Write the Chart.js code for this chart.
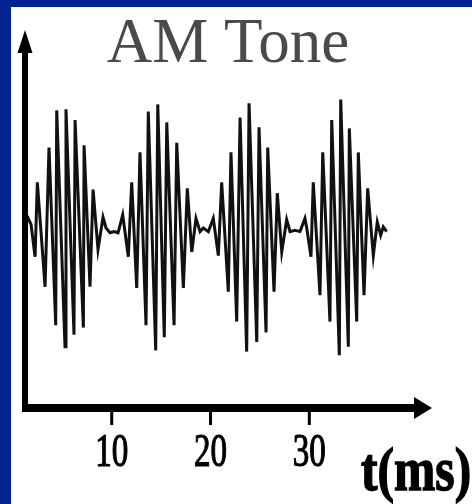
<!DOCTYPE html>
<html>
<head>
<meta charset="utf-8">
<script src="https://cdn.jsdelivr.net/npm/chart.js@4/dist/chart.umd.min.js"></script>
<style>
    body { margin: 0; background: #002392; width: 472px; height: 504px; overflow: hidden; }
    #panel { position: absolute; left: 11px; top: 7px; width: 461px; height: 497px; background: #ffffff; }
    canvas { display: block; }
</style>
</head>
<body>
<div id="panel"><canvas id="chart" width="461" height="497"></canvas></div>
<script>
//=================================
// Chart data
//=================================

const TITLE = "AM Tone";
const AXIS_LABEL = "t(ms)";
const TICK_VALUES = [10, 20, 30];

//time in ms
const times = [
    1.43, 1.83, 2.24, 2.47, 2.84, 3.25, 3.65, 4.33, 4.43, 5.27, 5.37, 6.18, 6.29, 7.13, 7.20, 7.80, 8.11, 8.61, 9.12, 9.42,
    9.83, 10.23, 10.64, 11.11,
    11.68, 12.02, 12.53, 12.86, 13.47, 13.70, 14.45, 14.66, 15.32, 15.57, 16.31, 16.58, 17.25, 17.65, 18.10, 18.53,
    18.94, 19.27, 19.78, 20.28,
    20.79, 21.13, 21.80, 22.07, 22.65, 22.99, 23.66, 23.90, 24.68, 24.91, 25.62, 25.79, 26.43, 26.76, 27.21, 27.71,
    28.05, 28.55, 29.06, 29.56, 29.74,
    30.17, 30.40, 31.08, 31.36, 32.09, 32.27, 33.04, 33.18, 33.95, 34.05, 34.80, 34.96, 35.54, 35.91, 36.48, 36.88,
    37.23, 37.49, 37.83
];

//signal level (arbitrary units)
const amplitudes = [
    0.10, 0.03, -0.24, 0.38, -0.03, -0.49, 0.67, -0.81, 0.98, -0.99, 0.99, -0.89, 0.90, -0.83, 0.69, -0.49, 0.32, -0.18, 0.09, 0.00,
    -0.04, -0.03, -0.04, 0.11,
    -0.24, 0.38, -0.50, 0.63, -0.81, 0.97, -1.02, 1.03, -0.91, 0.88, -0.81, 0.71, -0.50, 0.33, -0.20, 0.08,
    -0.03, 0.00, -0.03, 0.08,
    -0.23, 0.38, -0.53, 0.63, -0.78, 0.92, -1.03, 1.04, -0.95, 0.84, -0.87, 0.67, -0.53, 0.29, -0.20, 0.07,
    -0.03, -0.02, -0.03, 0.08, 0.00,
    -0.24, 0.38, -0.56, 0.63, -0.78, 0.90, -1.06, 1.07, -0.99, 0.83, -0.78, 0.63, -0.56, 0.33, -0.23, 0.05,
    -0.06, 0.01, -0.03
];

//=================================
// Axes, arrows and texts
//=================================

/** draws the arrowed axes, the ticks and the texts from the chart scales */
const scopeAxesPlugin = {
    id: "scopeAxes",
    afterDraw(chart) {
        const ctx = chart.ctx;
        const area = chart.chartArea;
        const xScale = chart.scales.x;

        ctx.save();
        ctx.fillStyle = "#000000";
        ctx.strokeStyle = "#000000";

        //vertical axis with arrow
        const ax = area.left;
        const ay = area.bottom;
        ctx.fillRect(ax - 3, area.top + 18, 6, ay - area.top - 14);
        ctx.beginPath();
        ctx.moveTo(ax, area.top);
        ctx.lineTo(ax - 7.5, area.top + 23);
        ctx.lineTo(ax + 7.5, area.top + 23);
        ctx.closePath();
        ctx.fill();

        //horizontal axis with arrow
        ctx.fillRect(ax - 3, ay - 4, area.right - 17 - ax + 3, 8);
        ctx.beginPath();
        ctx.moveTo(area.right, ay);
        ctx.lineTo(area.right - 18, ay - 11);
        ctx.lineTo(area.right - 18, ay + 11);
        ctx.closePath();
        ctx.fill();

        //ticks and tick labels (squeezed, slightly heavy like the scan)
        ctx.font = "46px 'Liberation Serif', 'Times New Roman', serif";
        ctx.textAlign = "center";
        ctx.textBaseline = "alphabetic";
        ctx.lineWidth = 1.2;
        TICK_VALUES.forEach(v => {
            const px = xScale.getPixelForValue(v);
            ctx.fillRect(px - 1.5, ay, 3, 17);
            ctx.save();
            ctx.translate(px, ay + 58);
            ctx.scale(0.72, 1);
            ctx.fillText(String(v), 0, 0);
            ctx.strokeText(String(v), 0, 0);
            ctx.restore();
        });

        //axis label
        ctx.save();
        ctx.font = "bold 62px 'Liberation Serif', 'Times New Roman', serif";
        ctx.textAlign = "left";
        ctx.lineWidth = 1.5;
        ctx.translate(350, ay + 82);
        ctx.scale(0.8, 1);
        ctx.fillText(AXIS_LABEL, 0, 0);
        ctx.strokeText(AXIS_LABEL, 0, 0);
        ctx.restore();

        //title
        ctx.font = "63px 'Liberation Serif', 'Times New Roman', serif";
        ctx.fillStyle = "#4a4a4a";
        ctx.textAlign = "center";
        ctx.fillText(TITLE, 217, 55);

        ctx.restore();
    }
};

const signalData = times.map((t, i) => ({x: t, y: amplitudes[i]}));

new Chart(document.getElementById("chart"), {
    type: "line",
    data: {
        datasets: [{
            data: signalData,
            borderColor: "#111111",
            borderWidth: 3,
            pointRadius: 0,
            tension: 0,
            fill: false
        }]
    },
    options: {
        responsive: false,
        animation: false,
        devicePixelRatio: 1,
        layout: {
            padding: {left: 14, right: 40, top: 23, bottom: 96}
        },
        plugins: {
            legend: {display: false},
            title: {display: false},
            tooltip: {enabled: false}
        },
        scales: {
            x: {type: "linear", min: 1.22, max: 42.42, display: false},
            y: {type: "linear", min: -1.5, max: 1.65, display: false}
        }
    },
    plugins: [scopeAxesPlugin]
});
</script>
</body>
</html>
